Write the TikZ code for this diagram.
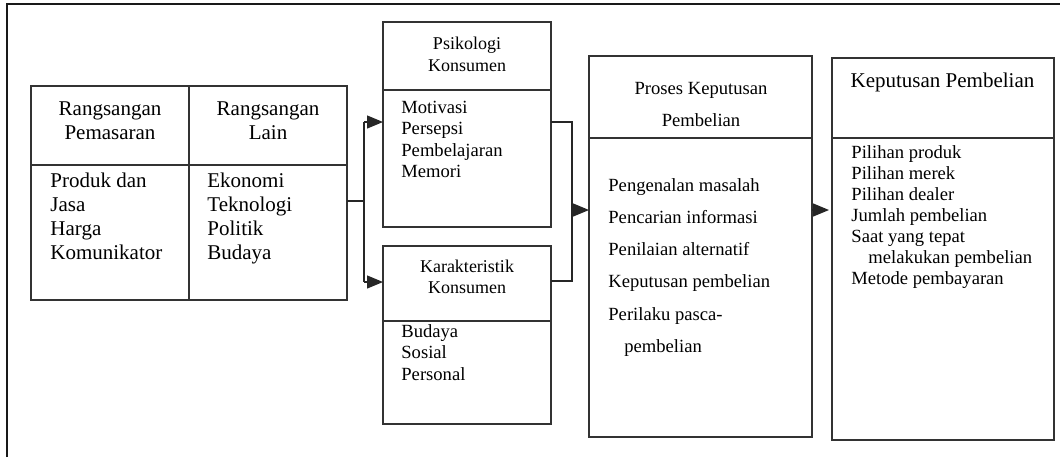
\documentclass[tikz,border=0pt]{standalone}
\usepackage{fontspec}
\setmainfont{Liberation Serif}
\usetikzlibrary{arrows.meta,calc}
\begin{document}
\begin{tikzpicture}[x=0.5pt,y=-0.5pt,
 box/.style={draw=black!80,line width=0.65pt,inner sep=0pt,outer sep=0pt},
 lnk/.style={draw=black!85,line width=0.65pt},
 arr/.style={lnk,-{Triangle[length=8pt,width=6.5pt]}},
 tl/.style={inner sep=0pt,anchor=base west},
 tc/.style={inner sep=0pt,anchor=base},
 big/.style={font=\fontsize{10.5}{12}\selectfont},
 mid/.style={font=\fontsize{9.3}{11}\selectfont},
 sml/.style={font=\fontsize{9}{11}\selectfont}]
\useasboundingbox (0,0) rectangle (1060,457);
% outer frame (cropped)
\draw[line width=1pt,black!90] (7,457) -- (7,4) -- (1060,4);

% boxes
\node[box,minimum width=158pt,minimum height=107pt] (tab) at (189,193) {};
\node[box,minimum width=84pt,minimum height=102.5pt] (psi) at (467,124.5) {};
\node[box,minimum width=84pt,minimum height=89pt] (kar) at (467,335) {};
\node[box,minimum width=111.5pt,minimum height=190.5pt] (pro) at (700.5,246.5) {};
\node[box,minimum width=111pt,minimum height=191pt] (kep) at (943,249) {};

% dividers
\coordinate (dTab) at (0,165);
\coordinate (dPsi) at (0,90);
\coordinate (dKar) at (0,321);
\coordinate (dPro) at (0,138);
\draw[box] (tab.north) -- (tab.south);
\draw[box] (dTab -| tab.west) -- (dTab -| tab.east);
\draw[box] (dPsi -| psi.west) -- (dPsi -| psi.east);
\draw[box] (dKar -| kar.west) -- (dKar -| kar.east);
\draw[box] (dPro -| pro.west) -- (dPro -| pro.east);
\draw[box] (dPro -| kep.west) -- (dPro -| kep.east);

% connectors
\coordinate (split) at (364,201);
\coordinate (sTop) at (364,122);
\coordinate (sBot) at (364,282);
\draw[lnk] (split -| tab.east) -- (split);
\draw[lnk] (sTop) -- (sBot);
\draw[arr] (sTop) -- (sTop -| psi.west);
\draw[arr] (sBot) -- (sBot -| kar.west);
\coordinate (jTop) at (572,122);
\coordinate (jBot) at (572,281);
\coordinate (jMid) at (572,210);
\draw[lnk] (jTop -| psi.east) -- (jTop) -- (jBot) -- (jBot -| kar.east);
\draw[arr] (jMid) -- (jMid -| pro.west);
\coordinate (m) at (0,210);
\draw[arr,shorten >=1.5pt] (m -| pro.east) -- (m -| kep.west);

% texts: left table
\node[tc,big] (h1a) at (110,115) {Rangsangan};
\node[tc,big] (h1b) at (110,139) {Pemasaran};
\node[tc,big] (h2a) at (268,115) {Rangsangan};
\node[tc,big] (h2b) at (268,139) {Lain};
\foreach \t [count=\i] in {Produk dan,Jasa,Harga,Komunikator}
  \node[tl,big] (pm\i) at (50,{187+(\i-1)*24.3}) {\t};
\foreach \t [count=\i] in {Ekonomi,Teknologi,Politik,Budaya}
  \node[tl,big] (ln\i) at (207,{187+(\i-1)*24.3}) {\t};

% Psikologi
\node[tc,sml] (ps1) at (467,49) {Psikologi};
\node[tc,sml] (ps2) at (467,71) {Konsumen};
\foreach \t [count=\i] in {Motivasi,Persepsi,Pembelajaran,Memori}
  \node[tl,mid] (pb\i) at (401,{113+(\i-1)*21.6}) {\t};

% Karakteristik
\node[tc,sml] (ka1) at (467,272) {Karakteristik};
\node[tc,sml] (ka2) at (467,293) {Konsumen};
\foreach \t [count=\i] in {Budaya,Sosial,Personal}
  \node[tl,mid] (kb\i) at (401,{337+(\i-1)*21.6}) {\t};

% Proses
\node[tc,mid] (pr1) at (701,94) {Proses Keputusan};
\node[tc,mid] (pr2) at (701,126) {Pembelian};
\foreach \t [count=\i] in {Pengenalan masalah,Pencarian informasi,Penilaian alternatif,Keputusan pembelian,Perilaku pasca-}
  \node[tl,mid] (pp\i) at (608,{191+(\i-1)*32.3}) {\t};
\node[tl,mid] (pp6) at (624,352) {pembelian};

% Keputusan
\node[tc,big] (kp0) at (942.5,87) {Keputusan Pembelian};
\foreach \t [count=\i] in {Pilihan produk,Pilihan merek,Pilihan dealer,Jumlah pembelian,Saat yang tepat}
  \node[tl,mid] (kq\i) at (851,{158+(\i-1)*21.1}) {\t};
\node[tl,mid] (kq6) at (868,263.5) {melakukan pembelian};
\node[tl,mid] (kq7) at (851,284.6) {Metode pembayaran};
\end{tikzpicture}
\end{document}
